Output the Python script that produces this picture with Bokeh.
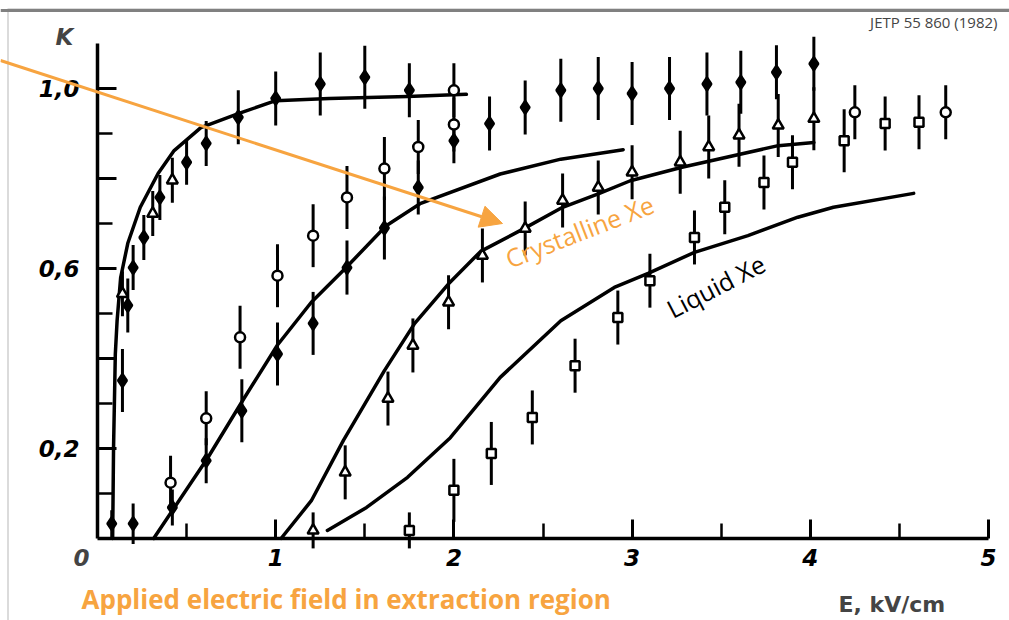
from bokeh.plotting import figure
from bokeh.models import (ColumnDataSource, LinearAxis, FixedTicker, Label, Arrow,
                          NormalHead, BoxAnnotation, Span, Range1d)
from bokeh.embed import file_html
from bokeh.resources import INLINE

# ---------------- data ----------------
# fitted curves  (E in kV/cm, K)
curve_a_x = [0.085, 0.09, 0.10, 0.11, 0.13, 0.17, 0.24, 0.34, 0.43, 0.58, 0.79, 1.00, 1.30, 1.74, 2.07]
curve_a_k = [0.00, 0.20, 0.41, 0.484, 0.58, 0.656, 0.736, 0.811, 0.862, 0.913, 0.944, 0.973, 0.978, 0.982, 0.987]

curve_b_x = [0.315, 0.62, 0.82, 1.01, 1.20, 1.39, 1.62, 1.81, 2.26, 2.60, 2.95]
curve_b_k = [0.00, 0.18, 0.31, 0.43, 0.525, 0.60, 0.695, 0.744, 0.81, 0.843, 0.864]

curve_c_x = [1.03, 1.20, 1.38, 1.61, 1.78, 1.97, 2.15, 2.39, 2.61, 2.81, 2.99, 3.28, 3.82, 4.02]
curve_c_k = [0.00, 0.084, 0.218, 0.373, 0.478, 0.566, 0.638, 0.688, 0.736, 0.766, 0.795, 0.825, 0.873, 0.88]

curve_d_x = [1.29, 1.51, 1.74, 1.98, 2.26, 2.60, 2.90, 3.09, 3.35, 3.65, 3.93, 4.13, 4.58]
curve_d_k = [0.018, 0.069, 0.136, 0.224, 0.358, 0.484, 0.558, 0.589, 0.636, 0.673, 0.714, 0.736, 0.767]

# filled markers
filled_x = [0.08, 0.20, 0.14, 0.17, 0.20, 0.26, 0.35, 0.50, 0.61, 0.79, 1.00, 1.25, 1.50, 1.75,
            2.00, 2.20, 2.40, 2.60, 2.81, 3.00, 3.21, 3.42, 3.61, 3.81, 4.02,
            0.42, 0.61, 0.81, 1.01, 1.21, 1.40, 1.61, 1.80]
filled_k = [0.033, 0.033, 0.351, 0.518, 0.602, 0.669, 0.758, 0.836, 0.878, 0.936, 0.978, 1.01, 1.025, 0.996,
            0.884, 0.922, 0.958, 0.996, 1.00, 0.989, 1.00, 1.01, 1.014, 1.036, 1.055,
            0.069, 0.173, 0.284, 0.41, 0.478, 0.602, 0.69, 0.78]
filled_e = [0.03, 0.045, 0.07, 0.06, 0.05, 0.05, 0.05, 0.05, 0.05, 0.06, 0.06, 0.07, 0.07, 0.06,
            0.05, 0.06, 0.06, 0.07, 0.07, 0.07, 0.07, 0.07, 0.07, 0.06, 0.06,
            0.04, 0.05, 0.07, 0.07, 0.07, 0.06, 0.07, 0.06]

# open circles
circ_x = [0.41, 0.61, 0.80, 1.01, 1.21, 1.40, 1.61, 1.80, 2.00, 2.00, 4.25, 4.76]
circ_k = [0.124, 0.267, 0.447, 0.584, 0.673, 0.758, 0.822, 0.870, 0.920, 0.996, 0.947, 0.947]
circ_e = [0.06, 0.06, 0.07, 0.07, 0.07, 0.07, 0.07, 0.06, 0.06, 0.06, 0.06, 0.06]

# open triangles
tri_x = [0.14, 0.31, 0.42, 1.21, 1.39, 1.63, 1.77, 1.97, 2.16, 2.40, 2.61, 2.81, 3.00, 3.27, 3.43, 3.60, 3.82, 4.02]
tri_k = [0.544, 0.722, 0.796, 0.018, 0.147, 0.311, 0.429, 0.525, 0.629, 0.689, 0.751, 0.780, 0.814, 0.836, 0.870, 0.896, 0.918, 0.933]
tri_e = [0.05, 0.05, 0.05, 0.04, 0.06, 0.06, 0.06, 0.06, 0.06, 0.06, 0.06, 0.06, 0.06, 0.07, 0.07, 0.07, 0.07, 0.07]

# open squares (liquid Xe)
sq_x = [1.75, 2.00, 2.21, 2.44, 2.68, 2.92, 3.10, 3.35, 3.52, 3.74, 3.90, 4.19, 4.42, 4.61]
sq_k = [0.018, 0.107, 0.189, 0.269, 0.384, 0.491, 0.573, 0.669, 0.736, 0.791, 0.836, 0.884, 0.922, 0.925]
sq_e = [0.04, 0.07, 0.07, 0.06, 0.06, 0.06, 0.06, 0.06, 0.06, 0.06, 0.06, 0.07, 0.06, 0.06]

x_ticks = [1, 2, 3, 4, 5]
x_minor = [0.5, 1.5, 2.5, 3.5, 4.5]
y_ticks = [0.2, 0.4, 0.6, 0.8, 1.0]
y_minor = [0.1, 0.3, 0.5, 0.7, 0.9]
y_labels = {0.2: "0,2", 0.4: "", 0.6: "0,6", 0.8: "", 1.0: "1,0"}

# ---------------- layout ----------------
W, H = 1009, 620
X0_PX, X_UNIT = 97.0, 178.2     # pixel of E=0, pixels per kV/cm
Y0_PX, Y_UNIT = 538.0, 450.0    # pixel of K=0, pixels per unit K


def px_x(px):
    return (px - X0_PX) / X_UNIT


def px_y(py):
    return (Y0_PX - py) / Y_UNIT


ORANGE = "#F7A440"

p = figure(width=W, height=H, output_backend="svg", toolbar_location=None,
           x_range=Range1d(px_x(0), px_x(W)), y_range=Range1d(px_y(H), px_y(0)),
           x_axis_type=None, y_axis_type=None, min_border=0)
p.outline_line_color = None
p.background_fill_color = "white"
p.border_fill_color = "white"

# thin grey frame of the picture (only its top and left edges are inside the window)
p.add_layout(Span(location=px_y(10), dimension="width", line_color="#808080", line_width=3,
                  level="overlay"))
p.add_layout(BoxAnnotation(left=px_x(7.5), top=px_y(8.5), right=px_x(W + 20), bottom=px_y(H + 20),
                           fill_alpha=0, line_color="#888888", line_width=2, level="underlay"))

tick_font = "DejaVu Sans"

xaxis = LinearAxis(fixed_location=0, bounds=(0, 5),
                   ticker=FixedTicker(ticks=x_ticks, minor_ticks=x_minor))
yaxis = LinearAxis(fixed_location=0, bounds=(0, 1.1),
                   ticker=FixedTicker(ticks=y_ticks, minor_ticks=y_minor),
                   major_label_overrides=y_labels)
for ax in (xaxis, yaxis):
    ax.axis_line_width = 3.5
    ax.axis_line_color = "black"
    ax.major_tick_in = 19
    ax.major_tick_out = 0
    ax.minor_tick_in = 15
    ax.minor_tick_out = 0
    ax.major_tick_line_width = 3
    ax.minor_tick_line_width = 2.5
    ax.major_label_text_font = tick_font
    ax.major_label_text_font_style = "bold italic"
    ax.major_label_text_font_size = "23px"
    ax.major_label_text_color = "black"
xaxis.major_label_standoff = 10
yaxis.major_label_standoff = 18
p.add_layout(xaxis, "below")
p.add_layout(yaxis, "left")

# curves
for cx, ck in ((curve_a_x, curve_a_k), (curve_b_x, curve_b_k),
               (curve_c_x, curve_c_k), (curve_d_x, curve_d_k)):
    p.line(cx, ck, line_color="black", line_width=3.5, line_join="round", line_cap="round")


def series(xs, ks, es, marker, size, filled):
    src = ColumnDataSource(dict(x=xs, k=ks,
                                lo=[k - e for k, e in zip(ks, es)],
                                hi=[k + e for k, e in zip(ks, es)]))
    p.segment(x0="x", y0="lo", x1="x", y1="hi", source=src, line_color="black", line_width=3)
    p.scatter(x="x", y="k", source=src, marker=marker, size=size,
              fill_color="black" if filled else "white", line_color="black", line_width=2.5)


series(filled_x, filled_k, filled_e, "diamond", 13, True)
series(circ_x, circ_k, circ_e, "circle", 10, False)
series(tri_x, tri_k, tri_e, "triangle", 11, False)
series(sq_x, sq_k, sq_e, "square", 9, False)

# axis names and origin label
p.add_layout(Label(x=px_x(64), y=px_y(36), text="K", text_font=tick_font, text_font_style="bold italic",
                   text_font_size="23px", text_align="center", text_baseline="middle"))
p.add_layout(Label(x=px_x(81), y=px_y(557), text="0", text_font=tick_font, text_font_style="bold italic",
                   text_font_size="23px", text_align="center", text_baseline="middle"))
p.add_layout(Label(x=px_x(838), y=px_y(604), text="E, kV/cm", text_font=tick_font,
                   text_font_style="bold", text_font_size="22px", text_align="left",
                   text_baseline="middle"))

# annotations
p.add_layout(Label(x=px_x(997), y=px_y(21), text="JETP 55 860 (1982)", text_font="Open Sans",
                   text_font_size="15px", text_color="#444444", text_align="right",
                   text_baseline="middle"))
p.add_layout(Label(x=px_x(81), y=px_y(598), text="Applied electric field in extraction region",
                   text_font="Open Sans", text_font_style="bold", text_font_size="26px",
                   text_color=ORANGE, text_align="left", text_baseline="middle"))
p.add_layout(Label(x=px_x(506), y=px_y(259), text="Crystalline Xe", text_font="Open Sans",
                   text_font_size="25px", text_color=ORANGE, angle=0.37,
                   text_align="left", text_baseline="middle"))
p.add_layout(Label(x=px_x(668), y=px_y(310), text="Liquid Xe", text_font="Open Sans",
                   text_font_size="25px", text_color="black", angle=0.48,
                   text_align="left", text_baseline="middle"))

p.add_layout(Arrow(end=NormalHead(size=22, fill_color=ORANGE, line_color=ORANGE),
                   x_start=px_x(0), y_start=px_y(60), x_end=px_x(502), y_end=px_y(223),
                   line_color=ORANGE, line_width=3))

open("out.html", "w").write(file_html(p, INLINE))
